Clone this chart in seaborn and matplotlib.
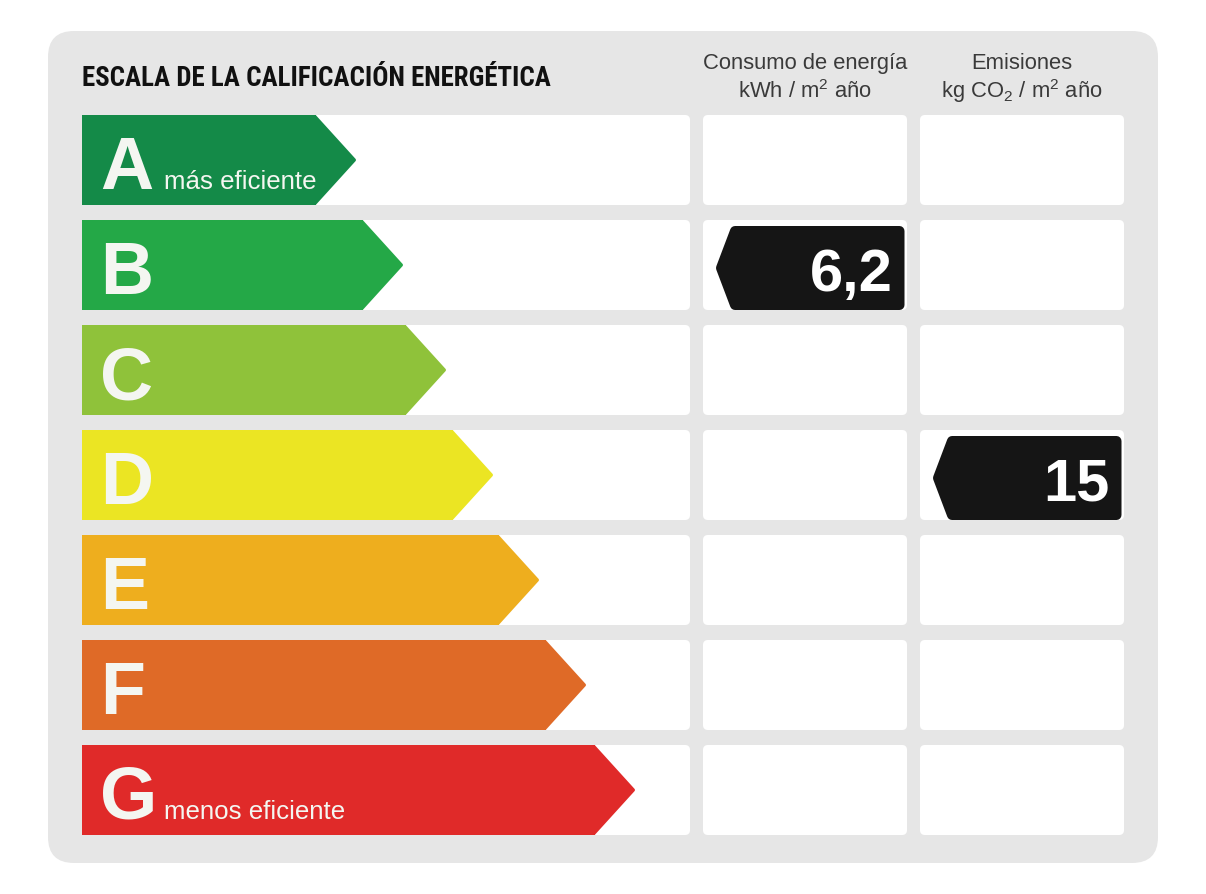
"""
Energy rating label (escala de la calificación energética) drawn with seaborn.

The A-G arrow bodies come from a horizontal seaborn barplot; the arrow tips,
the white cells and the black value tags are added on the same axes.
"""

import matplotlib
matplotlib.use("Agg")
import matplotlib.pyplot as plt
from matplotlib import font_manager as fm
from matplotlib.patches import FancyBboxPatch, Polygon
import seaborn as sns


# ---------------------------------------------------------------- data
RATINGS = ["A", "B", "C", "D", "E", "F", "G"]
RATING_COLORS = ["#148a48", "#24a847", "#8fc23a", "#ebe523", "#eeae1e", "#df6a27", "#e02a29"]
ARROW_LENGTH = [274, 321, 364, 411, 457, 504, 553]  # scale length up to each arrow tip
END_LABELS = {"A": "más eficiente", "G": "menos eficiente"}

TITLE = "ESCALA DE LA CALIFICACIÓN ENERGÉTICA"
HEADER_TOP = ["Consumo de energía", "Emisiones"]
HEADER_UNITS = [r"kWh / m$\mathregular{^2}$ año", r"kg CO$\mathregular{_2}$ / m$\mathregular{^2}$ año"]

CONSUMPTION_RATING = "B"
CONSUMPTION_VALUE = 6.2
EMISSIONS_RATING = "D"
EMISSIONS_VALUE = 15

# ---------------------------------------------------------------- layout (pixels)
W, H = 1206, 895
X0 = 82          # left edge of the scale
ROW0 = 161       # centre of the first row
PITCH = 105      # row spacing
ROW_H = 90       # row height
TIP = 40         # horizontal run of the arrow tip
TITLE_WIDTH = 469
HEADER_WIDTH = 204
PANEL = (48, 32, 1158, 864)
COLS = {"scale": (82, 690), "consumo": (703, 907), "emisiones": (920, 1124)}

LETTER_COLOR = "#f4f6f1"
TAG_COLOR = "#151515"
HEADER_COLOR = "#3a3a3a"


def xd(p):
    return p - X0


def yd(p):
    return (p - ROW0) / PITCH


def first_font(families, weight="bold"):
    for fam in families:
        try:
            fm.findfont(fm.FontProperties(family=fam, weight=weight), fallback_to_default=False)
            return fam
        except ValueError:
            continue
    return "Liberation Sans"


def light_font():
    """Roboto Light when it is there, plain Liberation Sans otherwise."""
    try:
        path = fm.findfont(fm.FontProperties(family="Roboto", weight="light"),
                           fallback_to_default=False)
        if "light" in path.lower():
            return "Roboto", "light"
    except ValueError:
        pass
    return "Liberation Sans", "normal"


def rounded_box(ax, x0, x1, y0, y1, r, color, z):
    """x in pixels, y in row units."""
    ax.add_patch(FancyBboxPatch(
        (xd(x0), y0), x1 - x0, y1 - y0,
        boxstyle=f"round,pad=0,rounding_size={r}",
        mutation_aspect=1 / PITCH, fc=color, ec="none", zorder=z))


def fmt_value(v):
    return f"{v:g}".replace(".", ",")


def value_tag(ax, column, rating, value):
    c0, c1 = COLS[column]
    row = RATINGS.index(rating)
    yc = row + 3 / PITCH
    half = 42 / PITCH
    r = 5
    left, right = c0 + 13, c1 - 2.5
    verts = [
        (xd(left + r), yc),
        (xd(left + 17 + r * 0.4), yc - half + r / PITCH),
        (xd(right - r), yc - half + r / PITCH),
        (xd(right - r), yc + half - r / PITCH),
        (xd(left + 17 + r * 0.4), yc + half - r / PITCH),
    ]
    ax.add_patch(Polygon(verts, closed=True, fc=TAG_COLOR, ec=TAG_COLOR,
                         lw=2 * r * 0.72, joinstyle="round", zorder=5))
    ax.text(xd(right - 12), yc + 21.5 / PITCH, fmt_value(value), ha="right", va="baseline",
            fontsize=43, fontweight="bold", color="white", zorder=6)


def main():
    sns.set_theme(style="white")
    plt.rcParams["font.family"] = ["Liberation Sans", "DejaVu Sans"]

    fig = plt.figure(figsize=(W / 100, H / 100), dpi=100)
    ax = fig.add_axes([0, 0, 1, 1])
    renderer = fig.canvas.get_renderer()

    # grey panel and white cells
    rounded_box(ax, PANEL[0], PANEL[2], yd(PANEL[1]), yd(PANEL[3]), 26, "#e6e6e6", 0)
    half_row = ROW_H / PITCH / 2
    for i in range(len(RATINGS)):
        for c0, c1 in COLS.values():
            rounded_box(ax, c0, c1, i - half_row, i + half_row, 5, "white", 1)

    # arrow bodies
    body = [length - TIP for length in ARROW_LENGTH]
    sns.barplot(x=body, y=RATINGS, hue=RATINGS, palette=RATING_COLORS, orient="h",
                width=ROW_H / PITCH, saturation=1, linewidth=0, legend=False,
                zorder=3, ax=ax)

    # arrow tips, letters and end labels
    bars = [bar for container in ax.containers for bar in container]
    for bar, letter, color in zip(bars, RATINGS, RATING_COLORS):
        x1 = bar.get_x() + bar.get_width()
        y0, h = bar.get_y(), bar.get_height()
        inset = 1.5 / PITCH
        ax.add_patch(Polygon(
            [(x1 - 1, y0 + inset), (x1 + TIP - 1.5, y0 + h / 2), (x1 - 1, y0 + h - inset)],
            closed=True, fc=color, ec=color, lw=2.2, joinstyle="round", zorder=3))
        yc = y0 + h / 2
        ax.text(xd(100), yc + 28 / PITCH, letter, fontsize=53, fontweight="bold",
                color=LETTER_COLOR, va="baseline", ha="left", zorder=4)
        if letter in END_LABELS:
            ax.text(xd(164), yc + 28 / PITCH, END_LABELS[letter], fontsize=18.6,
                    color=LETTER_COLOR, va="baseline", ha="left", zorder=4)

    # title: condensed face if there is one, squeezed to the reference width
    title_font = first_font(["Liberation Sans Narrow", "Roboto Condensed", "Arial Narrow",
                             "Liberation Sans"])
    title = ax.text(xd(82), yd(85.5), TITLE, fontsize=17, fontweight="bold", color="#111111",
                    family=[title_font, "Liberation Sans"], va="baseline", ha="left")
    width = title.get_window_extent(renderer).width
    title.set_fontsize(min(20, 17 * TITLE_WIDTH / width))

    # column headers
    head_family, head_weight = light_font()
    head_texts = []
    for col, top, units in zip(["consumo", "emisiones"], HEADER_TOP, HEADER_UNITS):
        cx = xd(sum(COLS[col]) / 2)
        for text, base in ((top, 69), (units, 98)):
            head_texts.append(ax.text(cx, yd(base), text, fontsize=15.7, color=HEADER_COLOR,
                                      family=[head_family, "Liberation Sans"],
                                      fontweight=head_weight, ha="center", va="baseline"))
    width = head_texts[0].get_window_extent(renderer).width
    for t in head_texts:
        t.set_fontsize(15.7 * HEADER_WIDTH / width)

    # value tags
    value_tag(ax, "consumo", CONSUMPTION_RATING, CONSUMPTION_VALUE)
    value_tag(ax, "emisiones", EMISSIONS_RATING, EMISSIONS_VALUE)

    ax.set_xlim(xd(0), xd(W))
    ax.set_ylim(yd(H), yd(0))
    ax.axis("off")
    fig.savefig("out.png", dpi=100, facecolor="white")
    plt.close(fig)


if __name__ == "__main__":
    main()
